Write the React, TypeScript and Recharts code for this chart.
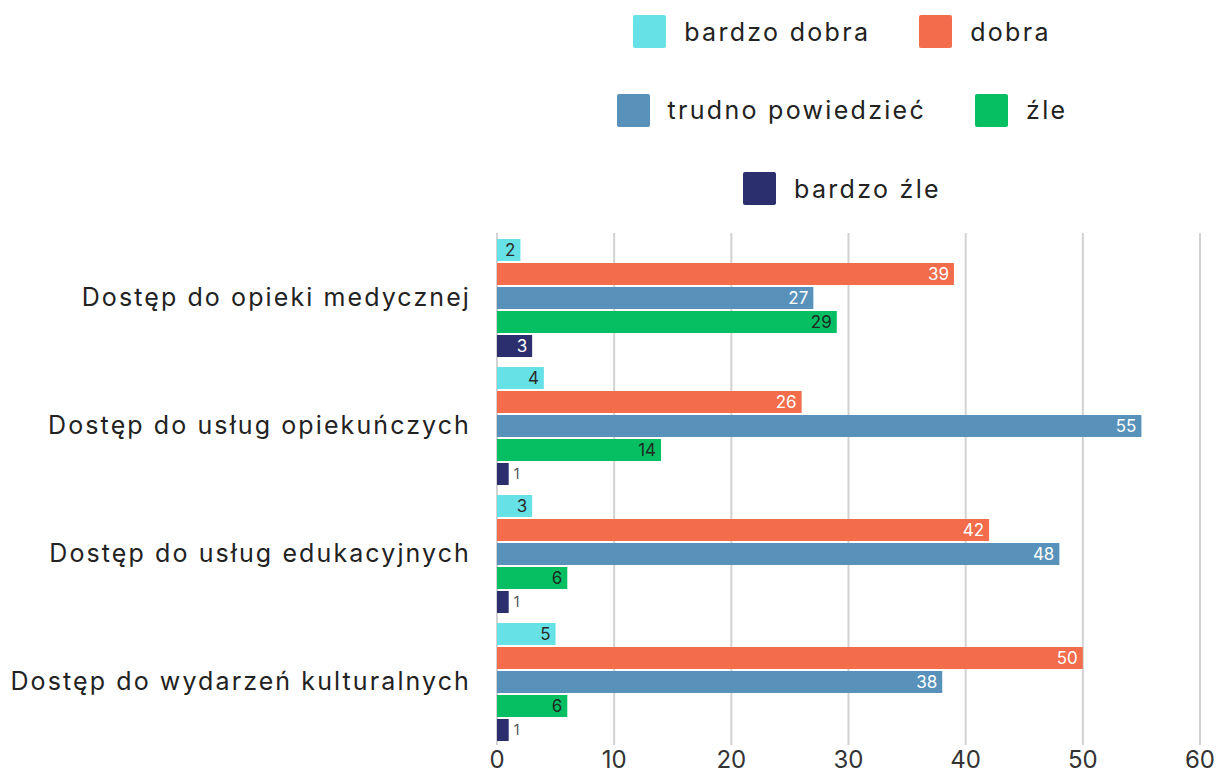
import React from "react";
import {
  BarChart,
  Bar,
  XAxis,
  YAxis,
  CartesianGrid,
  Legend,
  LabelList,
} from "recharts";

const categories = [
  "Dostęp do opieki medycznej",
  "Dostęp do usług opiekuńczych",
  "Dostęp do usług edukacyjnych",
  "Dostęp do wydarzeń kulturalnych",
];
const bardzoDobra = [2, 4, 3, 5];
const dobra = [39, 26, 42, 50];
const trudno = [27, 55, 48, 38];
const zle = [29, 14, 6, 6];
const bardzoZle = [3, 1, 1, 1];
const xTicks = [0, 10, 20, 30, 40, 50, 60];

const series = [
  { key: "bardzoDobra", name: "bardzo dobra", color: "#66E2E7", label: "#2a2a2a", values: bardzoDobra },
  { key: "dobra", name: "dobra", color: "#F36C4C", label: "#ffffff", values: dobra },
  { key: "trudno", name: "trudno powiedzieć", color: "#5892BA", label: "#ffffff", values: trudno },
  { key: "zle", name: "źle", color: "#05BF62", label: "#1d2b22", values: zle },
  { key: "bardzoZle", name: "bardzo źle", color: "#2C2F6E", label: "#ffffff", values: bardzoZle },
];

const data = categories.map((c, i) => {
  const row: any = { category: c };
  series.forEach((s) => (row[s.key] = s.values[i]));
  return row;
});

const FONT = "Inter, 'Noto Sans', sans-serif";

const makeLabel = (textColor: string) => (props: any) => {
  const { x, y, width, height, value } = props;
  const fs = 17;
  const tw = String(value).length * 10;
  const inside = width > tw + 10;
  const cy = y + height / 2;
  if (inside) {
    return (
      <text x={x + width - 5} y={cy} dy="0.35em" textAnchor="end" fill={textColor} fontSize={fs} fontFamily={FONT}>
        {value}
      </text>
    );
  }
  return (
    <text x={x + width + 5} y={cy} dy="0.35em" textAnchor="start" fill="#555" fontSize={14} fontFamily={FONT}>
      {value}
    </text>
  );
};

const legendRows = [
  [series[0], series[1]],
  [series[2], series[3]],
  [series[4]],
];

const LegendContent = () => (
  <div style={{ height: 225, fontFamily: FONT, position: "relative" }}>
    {legendRows.map((row, ri) => (
      <div
        key={ri}
        style={{
          position: "absolute",
          top: 7 + ri * 78.5,
          left: 0,
          right: 0,
          display: "flex",
          justifyContent: "center",
          alignItems: "center",
          gap: 49,
        }}
      >
        {row.map((s) => (
          <div key={s.key} style={{ display: "flex", alignItems: "center" }}>
            <div style={{ width: 33, height: 33, background: s.color, borderRadius: 2, marginRight: 18 }} />
            <span style={{ fontSize: 25, color: "#222", letterSpacing: 2.3 }}>{s.name}</span>
          </div>
        ))}
      </div>
    ))}
  </div>
);

export default function App() {
  return (
    <BarChart
      width={1214}
      height={765}
      data={data}
      layout="vertical"
      margin={{ top: 0, right: 22, bottom: 0, left: 0 }}
      barCategoryGap={6}
      barGap={2}
    >
      <CartesianGrid horizontal={false} vertical={true} stroke="#d2d2d2" strokeWidth={2} />
      <XAxis
        type="number"
        domain={[0, 60]}
        ticks={xTicks}
        axisLine={false}
        tickLine={false}
        tickMargin={0}
        height={28}
        tick={{ fontSize: 24, fill: "#333", fontFamily: FONT }}
      />
      <YAxis
        type="category"
        dataKey="category"
        width={489}
        axisLine={false}
        tickLine={false}
        tickMargin={20}
        tick={{ fontSize: 25, fill: "#222", fontFamily: FONT, letterSpacing: 2.1 }}
      />
      <Legend
        verticalAlign="top"
        content={<LegendContent />}
        wrapperStyle={{ top: 0, left: 489, width: 690 }}
      />
      {series.map((s) => (
        <Bar key={s.key} dataKey={s.key} name={s.name} fill={s.color} isAnimationActive={false}>
          <LabelList dataKey={s.key} content={makeLabel(s.label)} />
        </Bar>
      ))}
    </BarChart>
  );
}
